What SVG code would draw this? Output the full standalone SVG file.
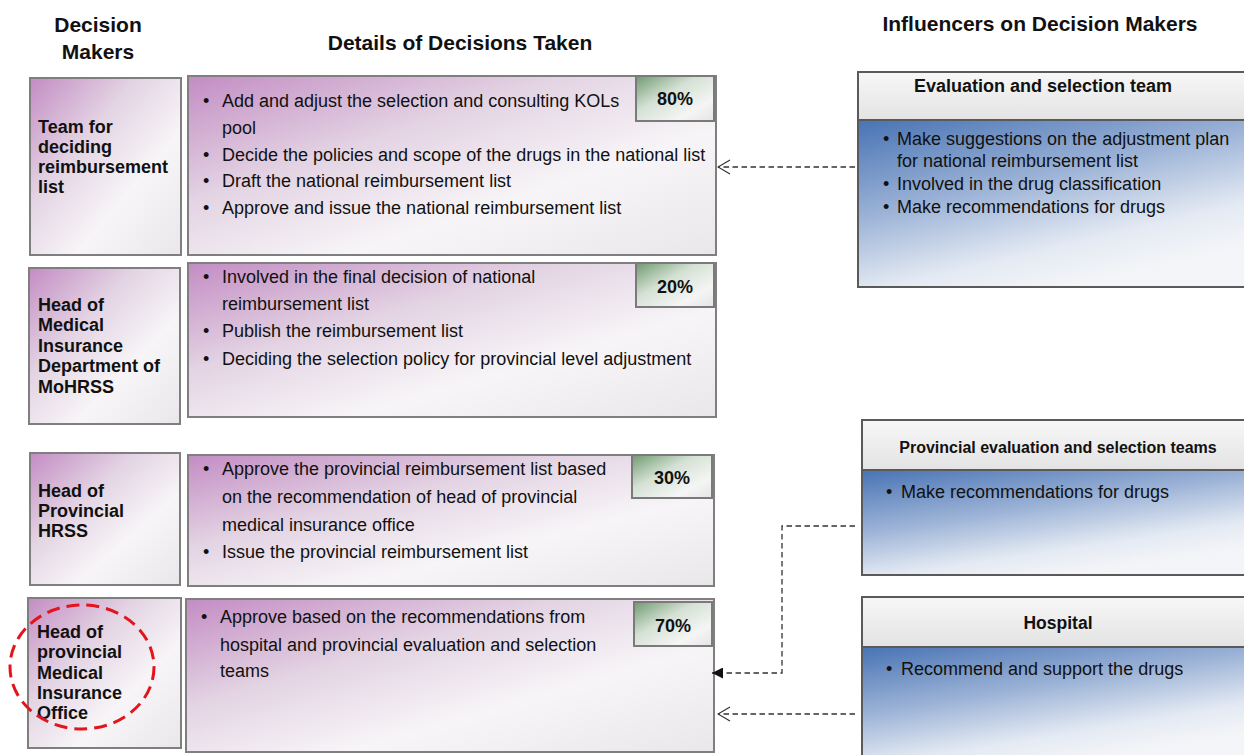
<svg xmlns="http://www.w3.org/2000/svg" width="1244" height="755" viewBox="0 0 1244 755">
  <defs>
    <linearGradient id="gPurple" x1="0" y1="0" x2="1" y2="1">
      <stop offset="0" stop-color="#c38cc3"/>
      <stop offset="0.35" stop-color="#e3d3e3"/>
      <stop offset="0.65" stop-color="#f7f5f7"/>
      <stop offset="1" stop-color="#e9e7e9"/>
    </linearGradient>
    <linearGradient id="gGreen" x1="0" y1="0" x2="1" y2="1">
      <stop offset="0" stop-color="#6f9a6f"/>
      <stop offset="0.4" stop-color="#d5e1d5"/>
      <stop offset="0.75" stop-color="#f4f5f4"/>
      <stop offset="1" stop-color="#e4e4e4"/>
    </linearGradient>
    <linearGradient id="gBlue" x1="0" y1="0" x2="0.55" y2="1">
      <stop offset="0" stop-color="#4873b4"/>
      <stop offset="0.45" stop-color="#9bb2d6"/>
      <stop offset="0.8" stop-color="#e4eaf3"/>
      <stop offset="1" stop-color="#f4f5f8"/>
    </linearGradient>
    <linearGradient id="gHead" x1="0" y1="0" x2="0" y2="1">
      <stop offset="0" stop-color="#f7f7f7"/>
      <stop offset="1" stop-color="#e3e3e3"/>
    </linearGradient>
    <marker id="openArrow" viewBox="0 0 14 16" refX="13" refY="8" markerWidth="14" markerHeight="16" markerUnits="userSpaceOnUse" orient="auto">
      <path d="M1,1 L13,8 L1,15" fill="none" stroke="#333" stroke-width="1.2"/>
    </marker>
    <marker id="solidArrow" viewBox="0 0 11 11" refX="11" refY="5.5" markerWidth="11" markerHeight="11" markerUnits="userSpaceOnUse" orient="auto">
      <path d="M0,0 L11,5.5 L0,11 Z" fill="#111"/>
    </marker>
  </defs>
  <style>
    text { font-family: "Liberation Sans", Arial, sans-serif; fill: #111; }
    .heading { font-size: 21px; font-weight: bold; text-anchor: middle; }
    .maker { font-size: 18px; font-weight: bold; }
    .detail { font-size: 18px; }
    .pct { font-size: 18px; font-weight: bold; text-anchor: middle; }
    .infHead { font-weight: bold; text-anchor: middle; }
    .infBody { font-size: 18px; }
    .makerBox { fill: url(#gPurple); stroke: #7f7f7f; stroke-width: 2; }
    .detailBox { fill: url(#gPurple); stroke: #7f7f7f; stroke-width: 2; }
    .badge { fill: url(#gGreen); stroke: #7a7a7a; stroke-width: 2; }
    .infHeadBox { fill: url(#gHead); stroke: #5a5a5a; stroke-width: 2; }
    .infBodyBox { fill: url(#gBlue); stroke: #5a5a5a; stroke-width: 2; }
    .link { fill: none; stroke: #333; stroke-width: 1.3; stroke-dasharray: 5.5 3.5; }
    .highlight { fill: none; stroke: #e3141c; stroke-width: 3; stroke-dasharray: 13 7; }
  </style>

  <rect width="1244" height="755" fill="#ffffff"/>

  <!-- column headings -->
  <g id="headings">
    <text class="heading" x="98" y="32">Decision</text>
    <text class="heading" x="98" y="59">Makers</text>
    <text class="heading" x="460" y="50">Details of Decisions Taken</text>
    <text class="heading" x="1040" y="31">Influencers on Decision Makers</text>
  </g>

  <!-- decision makers -->
  <g id="maker-team">
    <rect class="makerBox" x="30" y="78" width="151" height="177"/>
    <text class="maker" x="38" y="133">Team for</text>
    <text class="maker" x="38" y="153">deciding</text>
    <text class="maker" x="38" y="173">reimbursement</text>
    <text class="maker" x="38" y="193">list</text>
  </g>
  <g id="maker-mohrss">
    <rect class="makerBox" x="29" y="268" width="151" height="156"/>
    <text class="maker" x="38" y="311">Head of</text>
    <text class="maker" x="38" y="331">Medical</text>
    <text class="maker" x="38" y="352">Insurance</text>
    <text class="maker" x="38" y="372">Department of</text>
    <text class="maker" x="38" y="393">MoHRSS</text>
  </g>
  <g id="maker-hrss">
    <rect class="makerBox" x="30" y="453" width="150" height="132"/>
    <text class="maker" x="38" y="497">Head of</text>
    <text class="maker" x="38" y="517">Provincial</text>
    <text class="maker" x="38" y="537">HRSS</text>
  </g>
  <g id="maker-office">
    <rect class="makerBox" x="28" y="598" width="153" height="150"/>
    <text class="maker" x="37" y="638">Head of</text>
    <text class="maker" x="37" y="658">provincial</text>
    <text class="maker" x="37" y="679">Medical</text>
    <text class="maker" x="37" y="699">Insurance</text>
    <text class="maker" x="37" y="719">Office</text>
    <ellipse class="highlight" cx="82" cy="667" rx="72" ry="62"/>
  </g>

  <!-- decision details -->
  <g id="detail-team">
    <rect class="detailBox" x="188" y="76" width="528" height="179"/>
    <rect class="badge" x="636" y="76" width="78" height="45"/>
    <text class="pct" x="675" y="105">80%</text>
    <text class="detail" x="203" y="107">•</text>
    <text class="detail" x="222" y="107">Add and adjust the selection and consulting KOLs</text>
    <text class="detail" x="222" y="134">pool</text>
    <text class="detail" x="203" y="161">•</text>
    <text class="detail" x="222" y="161">Decide the policies and scope of the drugs in the national list</text>
    <text class="detail" x="203" y="187">•</text>
    <text class="detail" x="222" y="187">Draft the national reimbursement list</text>
    <text class="detail" x="203" y="214">•</text>
    <text class="detail" x="222" y="214">Approve and issue the national reimbursement list</text>
  </g>
  <g id="detail-mohrss">
    <rect class="detailBox" x="188" y="263" width="528" height="154"/>
    <rect class="badge" x="636" y="263" width="78" height="44"/>
    <text class="pct" x="675" y="293">20%</text>
    <text class="detail" x="203" y="283">•</text>
    <text class="detail" x="222" y="283">Involved in the final decision of national</text>
    <text class="detail" x="222" y="310">reimbursement list</text>
    <text class="detail" x="203" y="337">•</text>
    <text class="detail" x="222" y="337">Publish the reimbursement list</text>
    <text class="detail" x="203" y="365">•</text>
    <text class="detail" x="222" y="365">Deciding the selection policy for provincial level adjustment</text>
  </g>
  <g id="detail-hrss">
    <rect class="detailBox" x="188" y="455" width="526" height="131"/>
    <rect class="badge" x="632" y="455" width="80" height="43"/>
    <text class="pct" x="672" y="484">30%</text>
    <text class="detail" x="203" y="475">•</text>
    <text class="detail" x="222" y="475">Approve the provincial reimbursement list based</text>
    <text class="detail" x="222" y="503">on the recommendation of head of provincial</text>
    <text class="detail" x="222" y="531">medical insurance office</text>
    <text class="detail" x="203" y="558">•</text>
    <text class="detail" x="222" y="558">Issue the provincial reimbursement list</text>
  </g>
  <g id="detail-office">
    <rect class="detailBox" x="186" y="599" width="528" height="153"/>
    <rect class="badge" x="634" y="602" width="78" height="44"/>
    <text class="pct" x="673" y="632">70%</text>
    <text class="detail" x="201" y="623">•</text>
    <text class="detail" x="220" y="623">Approve based on the recommendations from</text>
    <text class="detail" x="220" y="651">hospital and provincial evaluation and selection</text>
    <text class="detail" x="220" y="677">teams</text>
  </g>

  <!-- influencers -->
  <g id="inf-national">
    <rect class="infBodyBox" x="858" y="120" width="392" height="167"/>
    <rect class="infHeadBox" x="858" y="72" width="392" height="48"/>
    <text class="infHead" x="1043" y="92" font-size="18">Evaluation and selection team</text>
    <text class="infBody" x="883" y="145">•</text>
    <text class="infBody" x="897" y="145">Make suggestions on the adjustment plan</text>
    <text class="infBody" x="897" y="167">for national reimbursement list</text>
    <text class="infBody" x="883" y="190">•</text>
    <text class="infBody" x="897" y="190">Involved in the drug classification</text>
    <text class="infBody" x="883" y="213">•</text>
    <text class="infBody" x="897" y="213">Make recommendations for drugs</text>
  </g>
  <g id="inf-provincial">
    <rect class="infBodyBox" x="862" y="470" width="388" height="105"/>
    <rect class="infHeadBox" x="862" y="420" width="388" height="50"/>
    <text class="infHead" x="1058" y="453" font-size="16">Provincial evaluation and selection teams</text>
    <text class="infBody" x="886" y="498">•</text>
    <text class="infBody" x="901" y="498">Make recommendations for drugs</text>
  </g>
  <g id="inf-hospital">
    <rect class="infBodyBox" x="862" y="647" width="388" height="115"/>
    <rect class="infHeadBox" x="862" y="597" width="388" height="50"/>
    <text class="infHead" x="1058" y="629" font-size="17.5">Hospital</text>
    <text class="infBody" x="886" y="675">•</text>
    <text class="infBody" x="901" y="675">Recommend and support the drugs</text>
  </g>

  <!-- influence links -->
  <g id="connectors">
    <path class="link" d="M855,167 H718" marker-end="url(#openArrow)"/>
    <path class="link" d="M855,526 H782 V673 H712" marker-end="url(#solidArrow)"/>
    <path class="link" d="M855,714 H718" marker-end="url(#openArrow)"/>
  </g>
</svg>
